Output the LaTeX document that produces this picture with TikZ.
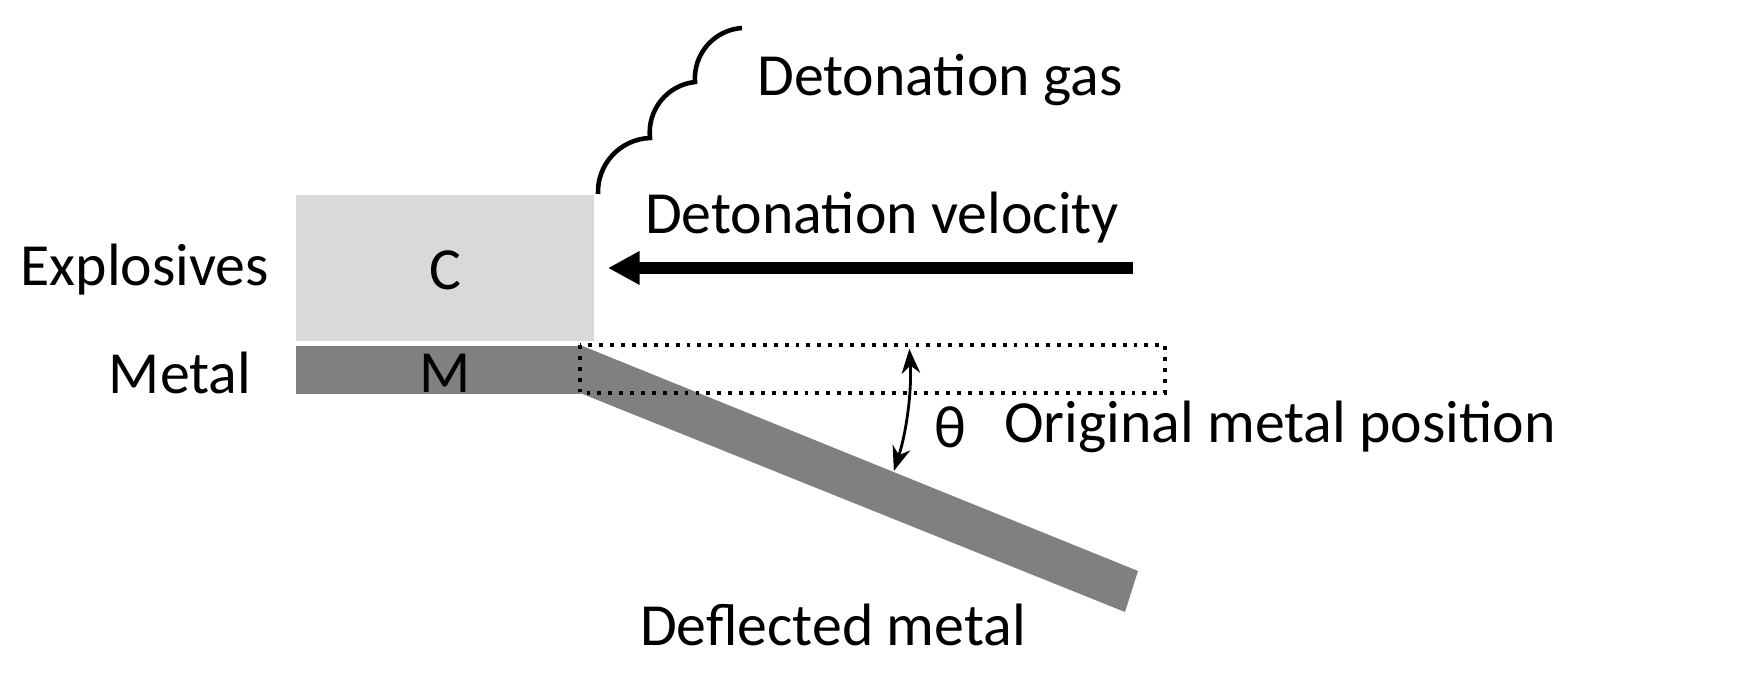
\documentclass[tikz,border=0pt]{standalone}
\usepackage{fontspec}
\setmainfont{Carlito}
\usetikzlibrary{arrows.meta}
\begin{document}
\begin{tikzpicture}[x=0.01cm,y=-0.01cm,
  lbl/.style={font=\fontsize{17}{19}\selectfont, inner sep=0pt},
  metal/.style={fill=black!50, draw=none}]
\useasboundingbox (0,0) rectangle (1742,677);
\node[fill=black!15, minimum width=298*0.01cm, minimum height=146*0.01cm, inner sep=0, anchor=north west] (expl) at (295,194) {};
\node[metal, minimum width=285*0.01cm, minimum height=48*0.01cm, inner sep=0, anchor=north west] (bar) at (295,345) {};
\fill[black!50] (580,345) -- (1138,571) -- (1125,612) -- (580,393) -- cycle;
\draw[dotted, line width=1.1pt] (580,345) rectangle (1165,393);
\coordinate (arrS) at (1133,268);
\coordinate (arrE) at (608,268);
\draw[line width=3.5pt, -{Triangle[length=9pt,width=9pt]}] (arrS) -- (arrE);
\draw[line width=1.3pt] (598,194) to[bend left=45] (650,138) to[bend left=45] (695,82) to[bend left=45] (742,28);
\draw[line width=0.8pt, {Stealth[length=7pt]}-{Stealth[length=7pt]}] (580,369) ++(-3.5:330) arc[start angle=-3.5, end angle=18, radius=330];
\node[lbl] (gas) at (940,80) {Detonation gas};
\node[lbl] (vel) at (882,218) {Detonation velocity};
\node[lbl] (ex) at (145,270) {Explosives};
\node[lbl] (c) at (445,270) {C};
\node[lbl] (me) at (180,373) {Metal};
\node[lbl] (m) at (445,373) {M};
\node[lbl] (th) at (950,427) {θ};
\node[lbl] (orig) at (1280,427) {Original metal position};
\node[lbl] (defl) at (833,625) {Deflected metal};
\end{tikzpicture}
\end{document}
